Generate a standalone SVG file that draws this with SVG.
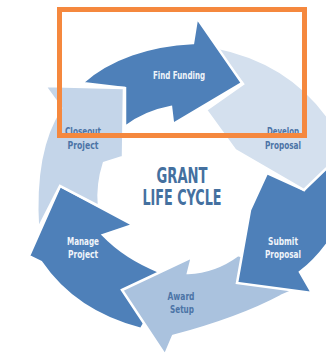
<svg xmlns="http://www.w3.org/2000/svg" width="326" height="356" viewBox="0 0 326 356">
<style>
.arr{stroke:#fff;stroke-width:2.5;stroke-linejoin:miter}
.dark{fill:#4E80B9}
.close{fill:#C4D5E9}
.dev{fill:#D4E0EE}
.award{fill:#AAC2DE}
.lbl{font-family:"DejaVu Sans Condensed","DejaVu Sans",sans-serif;font-weight:bold;font-size:11px;text-anchor:middle}
.ld{fill:#F0F4FA}
.ll{fill:#4C74A6}
.title{font-family:"DejaVu Sans Condensed","DejaVu Sans",sans-serif;font-weight:bold;font-size:21px;fill:#44709F;text-anchor:middle}
</style>
<rect width="326" height="356" fill="#fff"/>
<g id="manage-project">
<path class="arr dark" d="M60,186 L133,225 L103,235 Q125,258 160,272 L158,300 L141,329 Q75,312 41,262 L29,256 Z"/>
<text class="lbl ld" x="83" y="245" textLength="32" lengthAdjust="spacingAndGlyphs">Manage</text>
<text class="lbl ld" x="83" y="258" textLength="30" lengthAdjust="spacingAndGlyphs">Project</text>
</g>
<g id="award-setup">
<path class="arr award" d="M122,290 L192,257 L188,273 Q215,272 238,255 L262,262 L295,290 L281,296 Q240,318 173,336 L165,355 Z"/>
<text class="lbl ll" x="181" y="300" textLength="27" lengthAdjust="spacingAndGlyphs">Award</text>
<text class="lbl ll" x="182" y="313" textLength="24" lengthAdjust="spacingAndGlyphs">Setup</text>
</g>
<g id="submit-proposal">
<path class="arr dark" d="M267,173 L304,190 L330,155 L330,240 Q316,260 300,272 L312,293 L237,283 Q243,250 250,210 Z"/>
<text class="lbl ld" x="283" y="245" textLength="30" lengthAdjust="spacingAndGlyphs">Submit</text>
<text class="lbl ld" x="283" y="258" textLength="36" lengthAdjust="spacingAndGlyphs">Proposal</text>
</g>
<g id="develop-proposal">
<path class="arr dev" d="M215,47 Q290,62 330,120 L330,165 L304,190 L235,150 L206,110 L243,84 Z"/>
<text class="lbl ll" x="283" y="135" textLength="32" lengthAdjust="spacingAndGlyphs">Develop</text>
<text class="lbl ll" x="283" y="149" textLength="36" lengthAdjust="spacingAndGlyphs">Proposal</text>
</g>
<g id="find-funding">
<path class="arr dark" d="M82,83 C110,58 150,45 193,43 L197,18 L242,83 L173,124 L171,107 C155,110 138,117 125,127 L125,88 Z"/>
<text class="lbl ld" x="179" y="79" textLength="52" lengthAdjust="spacingAndGlyphs">Find Funding</text>
</g>
<g id="closeout-project">
<path class="arr close" d="M45,86 L124,88 L123,157 L104,163 Q97,185 99,206 L60,186 L38,229 Q33,150 61,108 Z"/>
<text class="lbl ll" x="83" y="135" textLength="36" lengthAdjust="spacingAndGlyphs">Closeout</text>
<text class="lbl ll" x="83" y="149" textLength="31" lengthAdjust="spacingAndGlyphs">Project</text>
</g>
<g id="center-title">
<text class="title" x="182" y="183" textLength="51" lengthAdjust="spacingAndGlyphs">GRANT</text>
<text class="title" x="182" y="205" textLength="79" lengthAdjust="spacingAndGlyphs">LIFE CYCLE</text>
</g>
<g id="connectors"></g>
<rect id="highlight" x="59.5" y="9.5" width="245" height="126" fill="none" stroke="#F5883E" stroke-width="5"/>
</svg>
